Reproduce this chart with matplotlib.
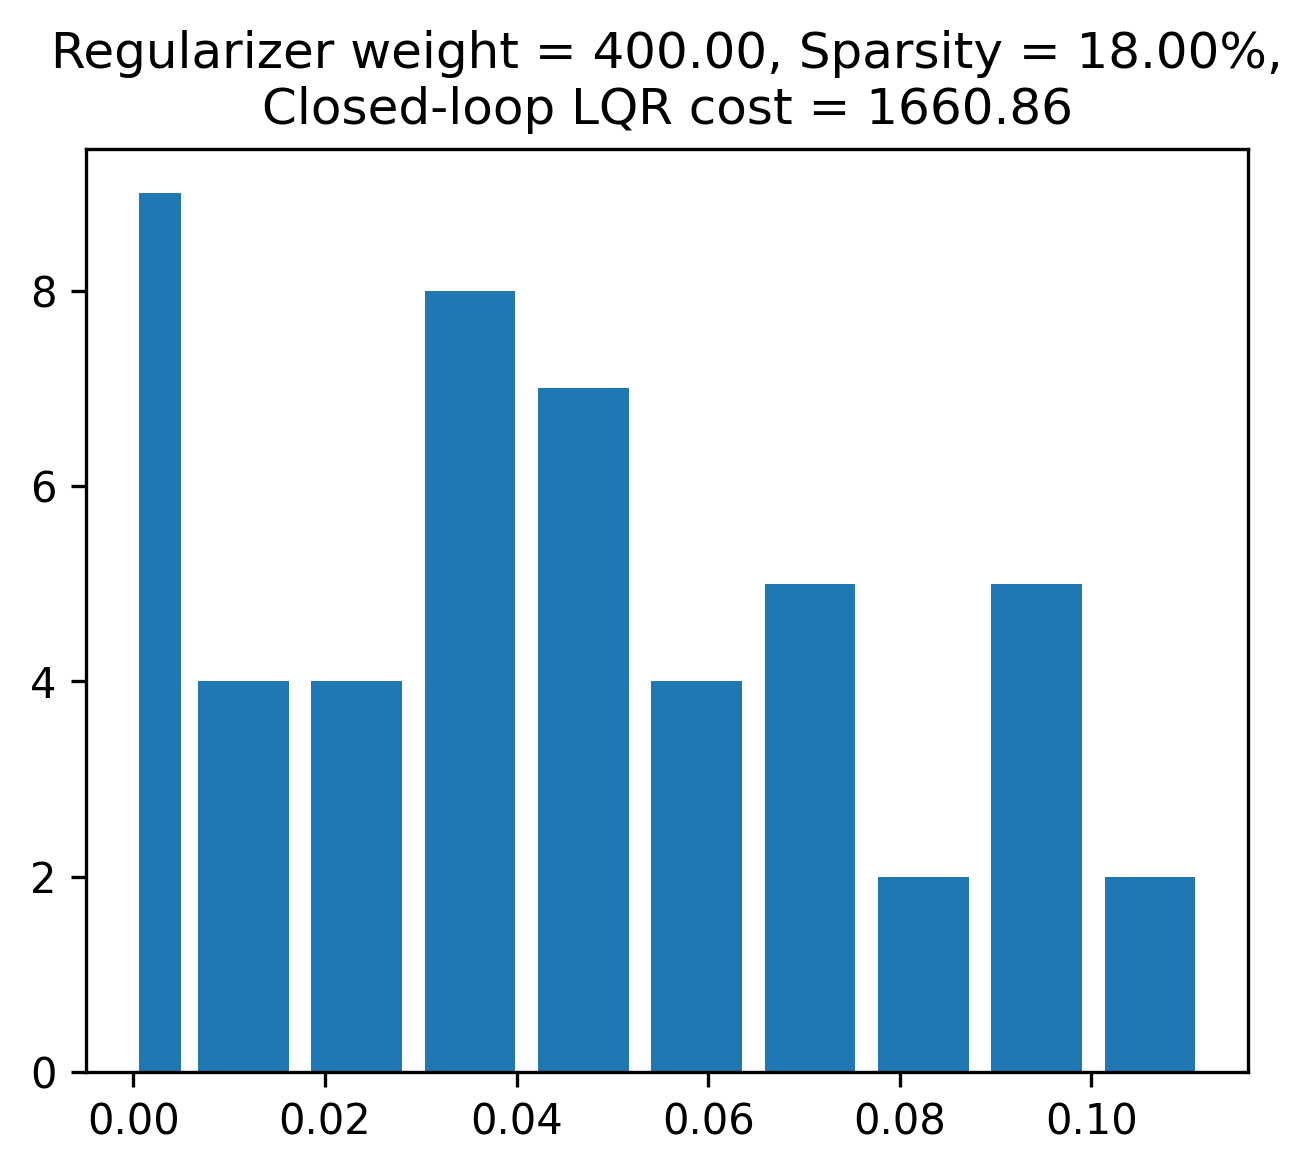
import matplotlib
matplotlib.use("Agg")
import matplotlib.pyplot as plt

bin_edges = [0.0, 0.00556, 0.01739, 0.02922, 0.04105, 0.05288,
             0.06471, 0.07654, 0.08837, 0.10020, 0.11203]
counts = [9, 4, 4, 8, 7, 4, 5, 2, 5, 2]
title = "Regularizer weight = 400.00, Sparsity = 18.00%,\nClosed-loop LQR cost = 1660.86"

fig = plt.figure(figsize=(1314 / 300, 1171 / 300), dpi=300)
ax = fig.add_axes([86 / 1314, (1171 - 1072) / 1171, 1162 / 1314, 923 / 1171])
ax.hist(bin_edges[:-1], bins=bin_edges, weights=counts, rwidth=0.8, color="#1f77b4")
ax.set_xticks([0.0, 0.02, 0.04, 0.06, 0.08, 0.10])
ax.set_yticks([0, 2, 4, 6, 8])
ax.set_title(title, fontsize=12)
fig.savefig("out.png", dpi=300)
